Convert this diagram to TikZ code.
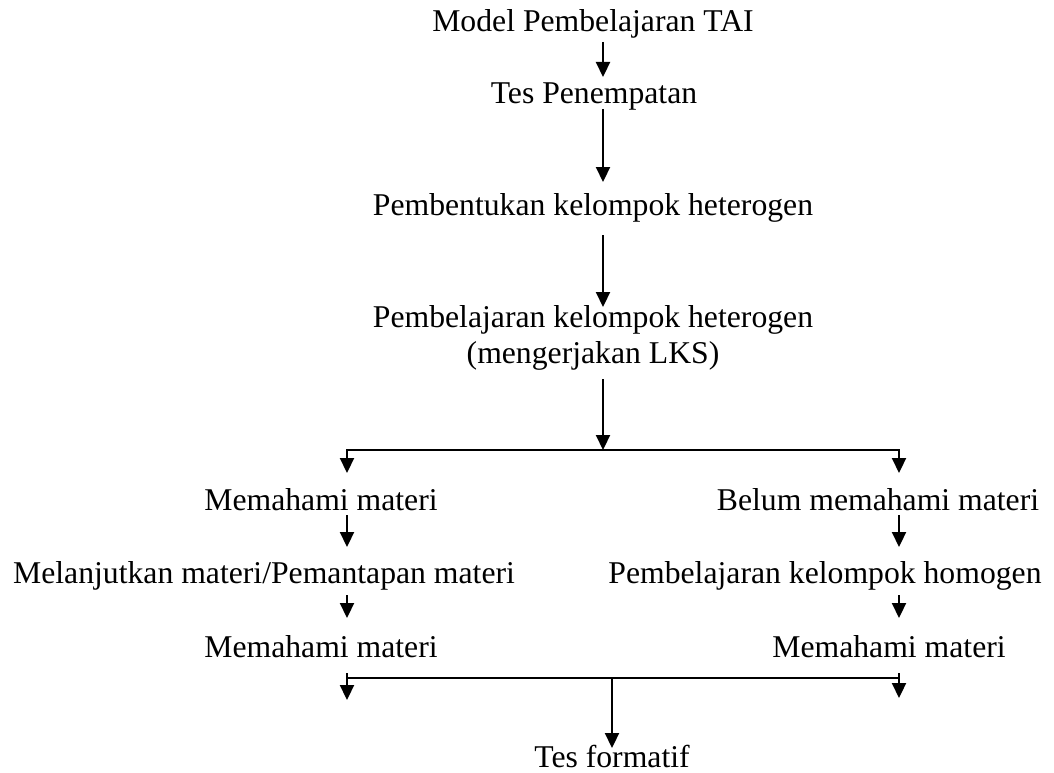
\documentclass[tikz,border=0pt]{standalone}
\usepackage{fontspec}
\setmainfont{Liberation Serif}
\usetikzlibrary{arrows.meta,calc}
\begin{document}
\begin{tikzpicture}[x=1pt,y=-1pt,
  lbl/.style={anchor=base,inner sep=0pt,font=\fontsize{31.7}{36}\selectfont},
  conn/.style={line width=2.2pt},
  arr/.style={conn,-{Triangle[length=15pt,width=14pt]}}]
\useasboundingbox (0,0) rectangle (1054,773);
% column reference coordinates
\coordinate (cx) at (603,0);
\coordinate (lx) at (347,0);
\coordinate (rx) at (899,0);
\coordinate (bx) at (612,0);
% texts
\node[lbl] (t1) at (593,32) {Model Pembelajaran TAI};
\node[lbl] (t2) at (594,104) {Tes Penempatan};
\node[lbl] (t3) at (593,215) {Pembentukan kelompok heterogen};
\node[lbl] (t4a) at (593,327) {Pembelajaran kelompok heterogen};
\node[lbl] (t4b) at (593,363) {(mengerjakan LKS)};
\node[lbl] (m1) at (321,510) {Memahami materi};
\node[lbl] (ml) at (264,583) {Melanjutkan materi/Pemantapan materi};
\node[lbl] (m2) at (321,657) {Memahami materi};
\node[lbl] (b1) at (878,510) {Belum memahami materi};
\node[lbl] (bh) at (825,583) {Pembelajaran kelompok homogen};
\node[lbl] (b2) at (889,657) {Memahami materi};
\node[lbl] (tf) at (612,767) {Tes formatif};
% junction coordinates
\coordinate (j1) at (603,450);
\coordinate (jl) at (347,450);
\coordinate (jr) at (899,450);
\coordinate (k1) at (612,678);
\coordinate (kl) at (347,678);
\coordinate (kr) at (899,678);
% main column
\draw[arr] ($(t1.base -| cx)+(0,10)$) -- ($(t2.base -| cx)+(0,-27)$);
\draw[arr] ($(t2.base -| cx)+(0,5)$) -- ($(t3.base -| cx)+(0,-33)$);
\draw[arr] ($(t3.base -| cx)+(0,20)$) -- ($(t4a.base -| cx)+(0,-20)$);
\draw[arr] ($(t4b.base -| cx)+(0,16)$) -- (j1);
% split
\draw[conn] (jl) -- (jr);
\draw[arr] ([yshift=1pt]jl) -- ($(m1.base -| lx)+(0,-37)$);
\draw[arr] ([yshift=1pt]jr) -- ($(b1.base -| rx)+(0,-37)$);
% left branch
\draw[arr] ($(m1.base -| lx)+(0,5)$) -- ($(ml.base -| lx)+(0,-36)$);
\draw[arr] ($(ml.base -| lx)+(0,12)$) -- ($(m2.base -| lx)+(0,-39)$);
% right branch
\draw[arr] ($(b1.base -| rx)+(0,5)$) -- ($(bh.base -| rx)+(0,-36)$);
\draw[arr] ($(bh.base -| rx)+(0,12)$) -- ($(b2.base -| rx)+(0,-39)$);
% merge
\draw[conn] (kl) -- (kr);
\draw[arr] ($(kl)+(0,-5)$) -- ($(kl)+(0,22)$);
\draw[arr] ($(kr)+(0,-5)$) -- ($(kr)+(0,20)$);
\draw[arr] ([yshift=-1pt]k1) -- ($(tf.base -| bx)+(0,-19)$);
\end{tikzpicture}
\end{document}
